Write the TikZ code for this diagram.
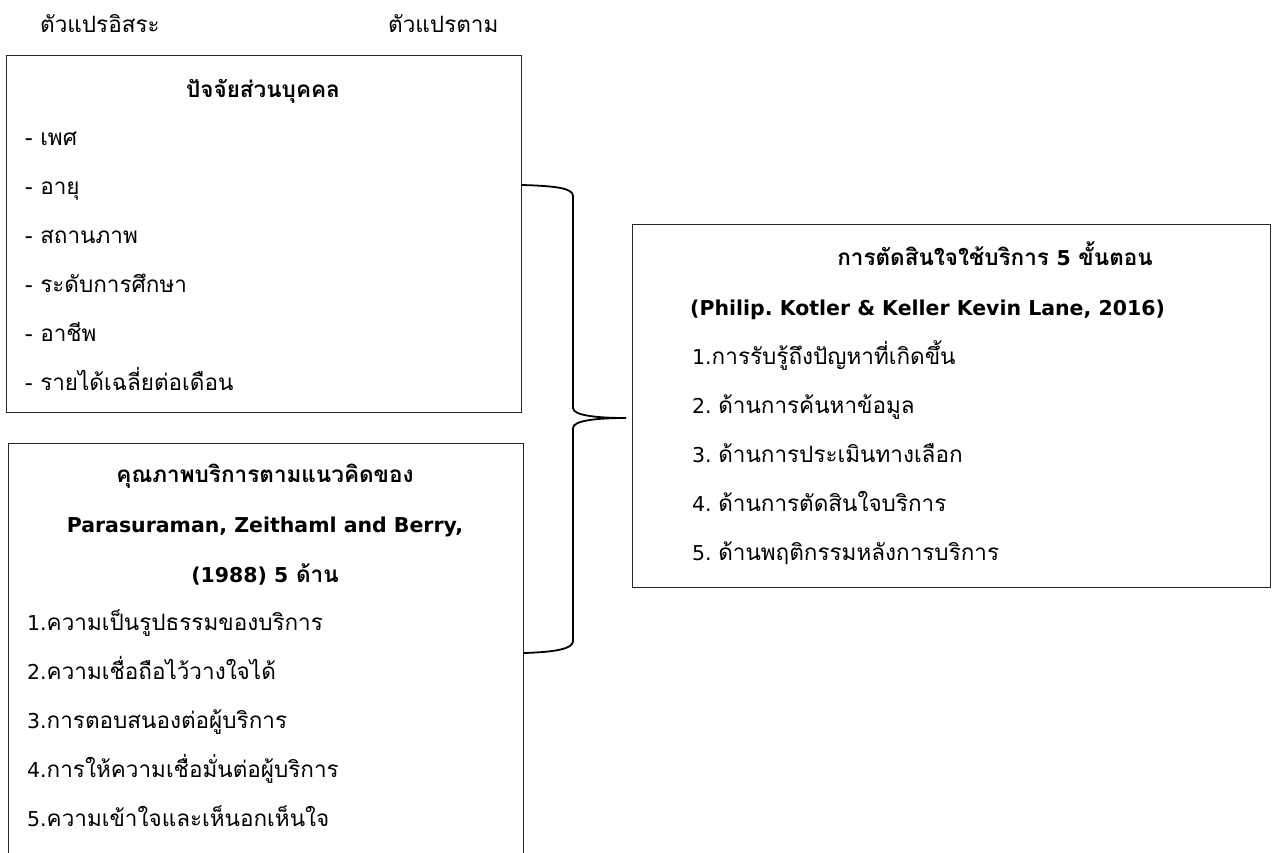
\documentclass[tikz,border=0pt]{standalone}
\usepackage{fontspec}
\setmainfont{Loma}[Script=Thai]
\newfontfamily\latfont{DejaVu Sans}[Scale=0.91]
\newcommand{\lat}[1]{{\latfont #1}}
\usetikzlibrary{positioning}
\frenchspacing

\begin{document}
\begin{tikzpicture}[x=1pt,y=-1pt,
  box/.style={draw=black!85,line width=1.2pt,inner sep=0pt,anchor=north west},
  item/.style={anchor=mid west,inner sep=0pt,yshift=-5pt,font=\fontsize{22.5}{26}\selectfont},
  head/.style={item,anchor=mid,font=\fontsize{22.5}{26}\selectfont\bfseries},
  brace/.style={line width=1.8pt,line cap=round}]
\clip (0,0) rectangle (1273,853);
% boxes
\node[box,minimum width=515pt,minimum height=357pt] (personal) at (6,55) {};
\node[box,minimum width=515pt,minimum height=440pt] (quality) at (8,443) {};
\node[box,minimum width=638pt,minimum height=363pt] (decision) at (632,224) {};
% column labels
\node[item] (indep) at (40,25) {ตัวแปรอิสระ};
\node[item] (dep) at (388,25) {ตัวแปรตาม};
% personal factors
\node[head] (pHead) at (263,90) {ปัจจัยส่วนบุคคล};
\foreach \t [count=\i] in {เพศ,อายุ,สถานภาพ,ระดับการศึกษา,อาชีพ,รายได้เฉลี่ยต่อเดือน}
  \node[item] (p\i) at (25,{89+49*\i}) {- \t};
% service quality
\node[head] (qHeadA) at (265,475) {คุณภาพบริการตามแนวคิดของ};
\node[head] (qHeadB) at (265,525) {\lat{Parasuraman, Zeithaml and Berry,}};
\node[head] (qHeadC) at (265,575) {\lat{(1988) 5} ด้าน};
\foreach \t [count=\i] in {ความเป็นรูปธรรมของบริการ,ความเชื่อถือไว้วางใจได้,การตอบสนองต่อผู้บริการ,การให้ความเชื่อมั่นต่อผู้บริการ,ความเข้าใจและเห็นอกเห็นใจ}
  \node[item] (q\i) at (27,{574+49*\i}) {\lat{\i.}\t};
% decision steps
\node[head] (dHead) at (995,258) {การตัดสินใจใช้บริการ \lat{5} ขั้นตอน};
\node[head,anchor=mid west] (dRef) at (690,308) {\lat{(Philip. Kotler \& Keller Kevin Lane, 2016)}};
\node[item] (d1) at (692,357) {\lat{1.}การรับรู้ถึงปัญหาที่เกิดขึ้น};
\foreach \t [count=\i from 2] in {ด้านการค้นหาข้อมูล,ด้านการประเมินทางเลือก,ด้านการตัดสินใจบริการ,ด้านพฤติกรรมหลังการบริการ}
  \node[item] (d\i) at (692,{308+49*\i}) {\lat{\i. }\t};
% brace
\coordinate (bTop) at (personal.east |- 0,185);
\coordinate (bBot) at (quality.east |- 0,653);
\coordinate (bTip) at ([xshift=-6pt]decision.west |- 0,418);
\draw[brace] (bTop) .. controls (555,186) and (573,188) .. (573,196) -- (573,408)
  .. controls (573,416) and (600,418) .. (bTip)
  .. controls (600,418) and (573,420) .. (573,428) -- (573,641)
  .. controls (573,649) and (555,652) .. (bBot);
\end{tikzpicture}
\end{document}
